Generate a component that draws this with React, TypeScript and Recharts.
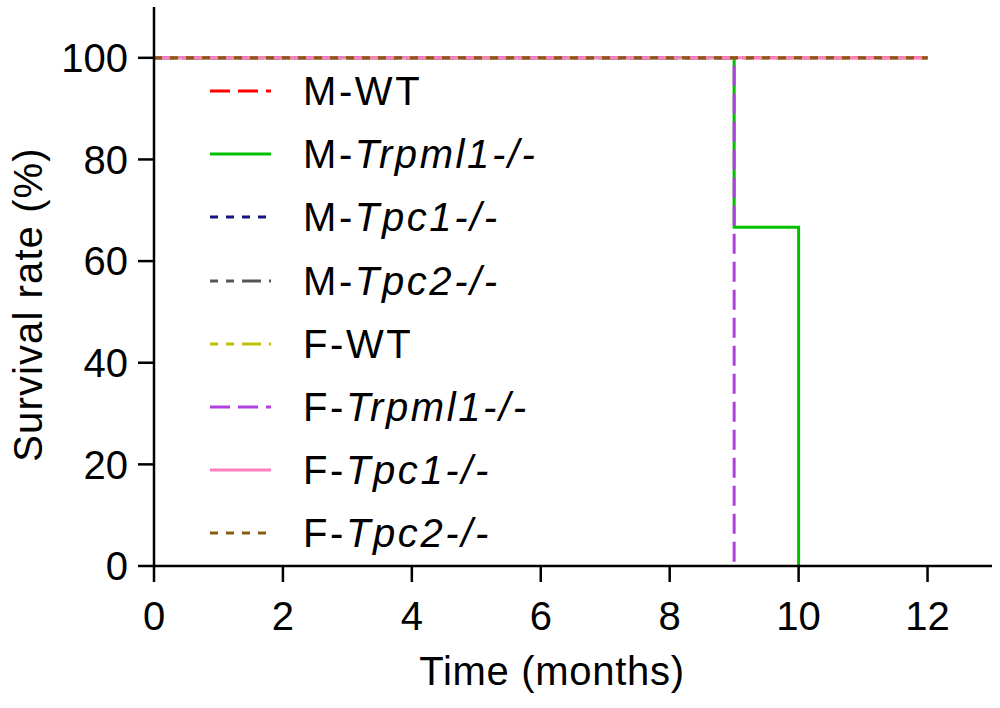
import React from 'react';
import { LineChart, Line, XAxis, YAxis } from 'recharts';

const seriesPrefix = ['M-', 'M-', 'M-', 'M-', 'F-', 'F-', 'F-', 'F-'];
const seriesGene = ['WT', 'Trpml1-/-', 'Tpc1-/-', 'Tpc2-/-', 'WT', 'Trpml1-/-', 'Tpc1-/-', 'Tpc2-/-'];
const seriesItalic = [false, true, true, true, false, true, true, true];
const seriesColors = ['#ff0000', '#00c000', '#14147a', '#555555', '#c0c000', '#b040e0', '#ff80c0', '#8b5a10'];
const seriesDash = ['20 8', undefined, '8 8', '8 8 8 8 19 8', '8 8 8 8 19 8', '20 8', undefined, '8 8'];

// survival step data (months, %)
const mWtTimes = [0, 12];
const mWtSurv = [100, 100];
const mTrpml1Times = [0, 9, 10];
const mTrpml1Surv = [100, 66.67, 0];
const mTpc1Times = [0, 12];
const mTpc1Surv = [100, 100];
const mTpc2Times = [0, 12];
const mTpc2Surv = [100, 100];
const fWtTimes = [0, 12];
const fWtSurv = [100, 100];
const fTrpml1Times = [0, 9];
const fTrpml1Surv = [100, 0];
const fTpc1Times = [0, 12];
const fTpc1Surv = [100, 100];
const fTpc2Times = [0, 12];
const fTpc2Surv = [100, 100];

const xTicks = [0, 2, 4, 6, 8, 10, 12];
const yTicks = [0, 20, 40, 60, 80, 100];

const allTimes = [mWtTimes, mTrpml1Times, mTpc1Times, mTpc2Times, fWtTimes, fTrpml1Times, fTpc1Times, fTpc2Times];
const allSurv = [mWtSurv, mTrpml1Surv, mTpc1Surv, mTpc2Surv, fWtSurv, fTrpml1Surv, fTpc1Surv, fTpc2Surv];

const seriesData = allTimes.map((ts, i) => ts.map((t, j) => ({ t, s: allSurv[i][j] })));

const FONT = '"Liberation Sans", Arial, sans-serif';

const XLabel = (props: any) => {
  const vb = props.viewBox || {};
  const cx = vb.x + vb.width / 2 - 21;
  const y = vb.y + 119;
  return (
    <text x={cx} y={y} textAnchor="middle" fontFamily={FONT} fontSize={40} letterSpacing={0.7} fill="#000">
      Time (months)
    </text>
  );
};

const YLabel = (props: any) => {
  const vb = props.viewBox || {};
  const cy = vb.y + vb.height / 2 + 18;
  const x = 42;
  return (
    <text
      x={x}
      y={cy}
      textAnchor="middle"
      transform={`rotate(-90, ${x}, ${cy})`}
      fontFamily={FONT}
      fontSize={40}
      letterSpacing={1.1}
      fill="#000"
    >
      Survival rate (%)
    </text>
  );
};

export default function App() {
  return (
    <div style={{ position: 'absolute', left: 0, top: 0, width: 1000, height: 708, background: '#fff' }}>
      <LineChart width={1000} height={708} margin={{ top: 7, right: 8, left: 0, bottom: 0 }}>
        <XAxis
          type="number"
          dataKey="t"
          domain={[0, 13]}
          ticks={xTicks}
          allowDuplicatedCategory={false}
          height={142}
          tickSize={16}
          tickMargin={20}
          axisLine={{ stroke: '#000', strokeWidth: 2.5 }}
          tickLine={{ stroke: '#000', strokeWidth: 2.5 }}
          tick={{ fill: '#000', fontSize: 40, fontFamily: FONT }}
          label={<XLabel />}
        />
        <YAxis
          type="number"
          dataKey="s"
          domain={[0, 110]}
          ticks={yTicks}
          width={154}
          tickSize={16}
          tickMargin={10}
          axisLine={{ stroke: '#000', strokeWidth: 2.5 }}
          tickLine={{ stroke: '#000', strokeWidth: 2.5 }}
          tick={{ fill: '#000', fontSize: 40, fontFamily: FONT }}
          label={<YLabel />}
        />
        {seriesData.map((d, i) => (
          <Line
            key={i}
            data={d}
            dataKey="s"
            type="stepAfter"
            stroke={seriesColors[i]}
            strokeWidth={3}
            strokeDasharray={seriesDash[i]}
            dot={false}
            activeDot={false}
            isAnimationActive={false}
            name={seriesPrefix[i] + seriesGene[i]}
          />
        ))}
      </LineChart>
      {seriesGene.map((g, i) => {
        const cy = 91 + i * 63.2;
        return (
          <div key={i} style={{ position: 'absolute', left: 210, top: cy - 20, height: 40, width: 400 }}>
            <svg width={62} height={40} style={{ position: 'absolute', left: 0, top: 0 }}>
              <line
                x1={0}
                y1={20}
                x2={61}
                y2={20}
                stroke={seriesColors[i]}
                strokeWidth={3}
                strokeDasharray={seriesDash[i]}
              />
            </svg>
            <div
              style={{
                position: 'absolute',
                left: 93,
                top: 0,
                lineHeight: '40px',
                fontSize: 40,
                fontFamily: FONT,
                letterSpacing: '2.6px',
                color: '#000',
                whiteSpace: 'nowrap',
              }}
            >
              {seriesPrefix[i]}
              <span style={{ fontStyle: seriesItalic[i] ? 'italic' : 'normal' }}>{g}</span>
            </div>
          </div>
        );
      })}
    </div>
  );
}
